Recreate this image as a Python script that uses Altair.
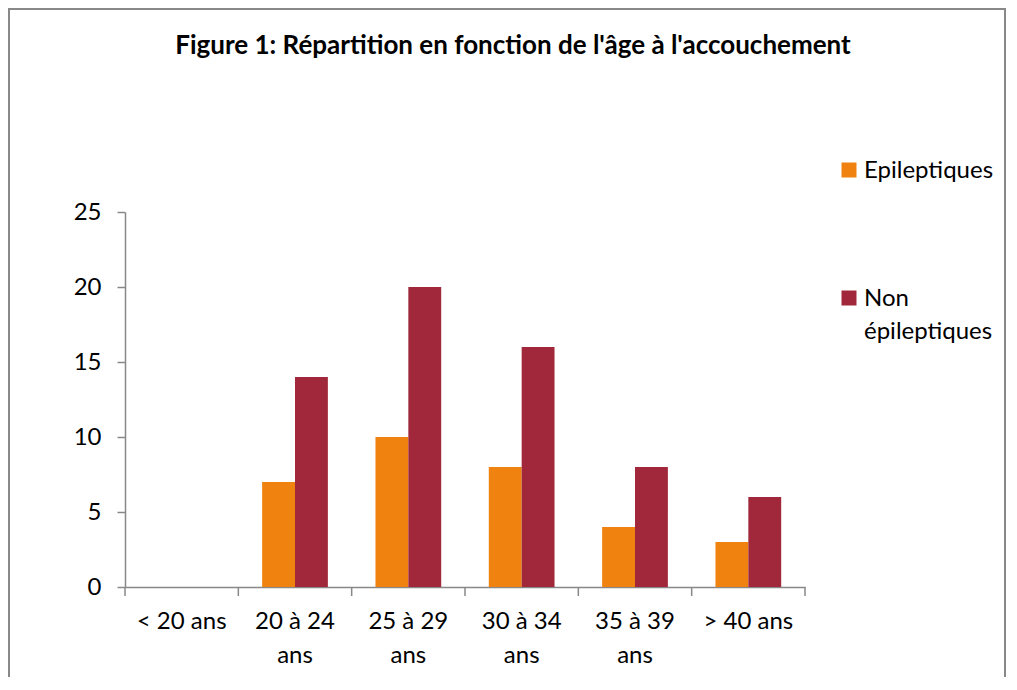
import altair as alt
import pandas as pd

categories = ["< 20 ans", "20 à 24 ans", "25 à 29 ans", "30 à 34 ans", "35 à 39 ans", "> 40 ans"]
series_names = ["Epileptiques", "Non épileptiques"]
epileptiques = [0, 7, 10, 8, 4, 3]
non_epileptiques = [0, 14, 20, 16, 8, 6]
colors = ["#F0820F", "#A0283A"]
y_ticks = [0, 5, 10, 15, 20, 25]

rows = []
for c, a, b in zip(categories, epileptiques, non_epileptiques):
    rows.append({"age": c, "serie": series_names[0], "n": a})
    rows.append({"age": c, "serie": series_names[1], "n": b})
df = pd.DataFrame(rows)

FONT = "Lato"
W, H = 680, 375
GREY = "#888888"
DY = 8

bars = alt.Chart(df).mark_bar().encode(
    x=alt.X("age:N", sort=categories, title=None,
            scale=alt.Scale(paddingInner=0.42, paddingOuter=0.21),
            axis=alt.Axis(labelAngle=0, ticks=False, domainColor=GREY, domainWidth=1.5,
                          labelFont=FONT, labelFontSize=24, labelColor="black",
                          labelPadding=22 - DY, labelLineHeight=34, labelBaseline="top",
                          labelExpr="length(datum.label) > 8 ? [substring(datum.label, 0, 7), 'ans'] : datum.label")),
    xOffset=alt.XOffset("serie:N", sort=series_names, scale=alt.Scale(paddingInner=0, paddingOuter=0)),
    y=alt.Y("n:Q", title=None, scale=alt.Scale(domain=[0, 25], nice=False),
            axis=alt.Axis(values=y_ticks, grid=False, tickSize=8, tickColor=GREY, tickWidth=1.5,
                          domainColor=GREY, domainWidth=1.5, labelFont=FONT, labelFontSize=24,
                          labelColor="black", labelPadding=16, labelOffset=-DY)),
    color=alt.Color("serie:N", sort=series_names,
                    scale=alt.Scale(domain=series_names, range=colors),
                    legend=alt.Legend(title=None, orient="none", legendX=712, legendY=-54,
                                      symbolType="square", symbolSize=225, symbolStrokeWidth=0,
                                      labelFont=FONT, labelFontSize=24, labelColor="black",
                                      labelLimit=300, labelOffset=3, rowPadding=103, padding=0,
                                      labelBaseline="alphabetic",
                                      labelExpr="datum.label == 'Non épileptiques' ? ['Non', 'épileptiques'] : datum.label")),
)

tick_pos = pd.DataFrame({"b": list(range(len(categories) + 1))})
ticks = alt.Chart(tick_pos).mark_rule(color=GREY, strokeWidth=1.5).encode(
    x=alt.X("b:Q", scale=alt.Scale(domain=[0, len(categories)]), axis=None),
    y=alt.value(H),
    y2=alt.value(H + 9),
)

border = alt.Chart(tick_pos).mark_rect(fill=None, stroke=GREY, strokeWidth=2).encode(
    x=alt.value(-116), x2=alt.value(W + 200), y=alt.value(-203), y2=alt.value(H + 120)
)

chart = alt.layer(border, bars, ticks).resolve_scale(x="independent").properties(
    width=W, height=H,
    title=alt.TitleParams("Figure 1: Répartition en fonction de l'âge à l'accouchement",
                          font=FONT, fontSize=26, fontWeight="bold", color="black",
                          anchor="middle", dx=48, offset=-77, baseline="bottom"),
    padding={"left": 117, "top": 204, "right": 202, "bottom": 90},
    autosize=alt.AutoSizeParams(type="none"),
).configure(
    background="white",
    view=alt.ViewConfig(stroke="transparent", strokeWidth=0),
    style={"guide-label": {"dy": DY, "lineHeight": 33}},
)

chart.save("out.html", embed_options={"renderer": "svg", "actions": False})
